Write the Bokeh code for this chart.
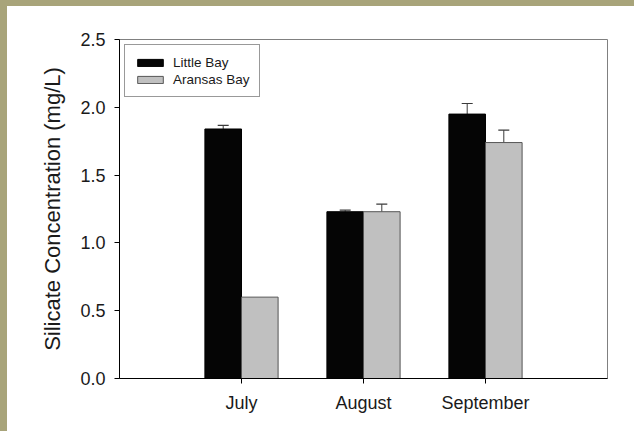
from bokeh.plotting import figure
from bokeh.layouts import column, row
from bokeh.models import (ColumnDataSource, FactorRange, FixedTicker, PrintfTickFormatter,
                          Whisker, TeeHead, Legend, LegendItem, Spacer)
from bokeh.transform import dodge
from bokeh.embed import file_html
from bokeh.resources import INLINE

months = ["July", "August", "September"]
little_bay = [1.84, 1.23, 1.95]
little_bay_err = [0.027, 0.012, 0.078]
aransas_bay = [0.60, 1.23, 1.74]
aransas_bay_err = [0.0, 0.056, 0.091]
y_ticks = [0.0, 0.5, 1.0, 1.5, 2.0, 2.5]

FONT = "Liberation Sans"
FRAME_BG = "#A8A47A"

src = ColumnDataSource(dict(month=months, lb=little_bay, ab=aransas_bay))


def err_source(values, errs):
    keep = [i for i, e in enumerate(errs) if e > 0]
    return ColumnDataSource(dict(
        month=[months[i] for i in keep],
        lower=[values[i] for i in keep],
        upper=[values[i] + errs[i] for i in keep],
    ))


lb_err_src = err_source(little_bay, little_bay_err)
ab_err_src = err_source(aransas_bay, aransas_bay_err)

p = figure(width=627, height=425, output_backend="svg", toolbar_location=None,
           x_range=FactorRange(*months, range_padding=0.5, range_padding_units="absolute"),
           y_range=(0, 2.5),
           min_border_left=112, min_border_right=27, min_border_top=33, min_border_bottom=53)

p.background_fill_color = "white"
p.border_fill_color = "white"
p.grid.visible = False
p.outline_line_color = "#808080"
p.outline_line_width = 1

r1 = p.vbar(x=dodge("month", -0.15, range=p.x_range), top="lb", width=0.3, source=src,
            fill_color="#050505", line_color="#000000", line_width=1)
r2 = p.vbar(x=dodge("month", 0.15, range=p.x_range), top="ab", width=0.3, source=src,
            fill_color="#C0C0C0", line_color="#555555", line_width=1)

w1 = Whisker(base=dodge("month", -0.15, range=p.x_range), lower="lower", upper="upper",
             source=lb_err_src, line_color="#3a3a3a", line_width=1,
             upper_head=TeeHead(size=11, line_color="#3a3a3a", line_width=1.2), lower_head=None)
w2 = Whisker(base=dodge("month", 0.15, range=p.x_range), lower="lower", upper="upper",
             source=ab_err_src, line_color="#3a3a3a", line_width=1,
             upper_head=TeeHead(size=11, line_color="#3a3a3a", line_width=1.2), lower_head=None)
p.add_layout(w1)
p.add_layout(w2)

for ax in (p.xaxis[0], p.yaxis[0]):
    ax.axis_line_color = "black"
    ax.axis_line_width = 1
    ax.major_tick_line_color = "black"
    ax.major_tick_in = 0
    ax.major_tick_out = 5
    ax.minor_tick_line_color = None
    ax.major_label_text_font = FONT
    ax.major_label_text_font_size = "18px"
    ax.major_label_text_color = "#1a1a1a"

p.yaxis[0].ticker = FixedTicker(ticks=y_ticks)
p.yaxis[0].formatter = PrintfTickFormatter(format="%.1f")
p.yaxis[0].major_label_standoff = 9
p.yaxis[0].axis_label = "Silicate Concentration (mg/L)"
p.yaxis[0].axis_label_text_font = FONT
p.yaxis[0].axis_label_text_font_size = "22px"
p.yaxis[0].axis_label_text_font_style = "normal"
p.yaxis[0].axis_label_text_color = "#1a1a1a"
p.yaxis[0].axis_label_standoff = 12

p.xaxis[0].major_label_standoff = 9

legend = Legend(items=[LegendItem(label="Little Bay", renderers=[r1]),
                       LegendItem(label="Aransas Bay", renderers=[r2])],
                location="top_left", margin=5, padding=9, spacing=1,
                glyph_width=32, glyph_height=9, label_height=16, label_standoff=7,
                label_text_font=FONT, label_text_font_size="13.5px", label_text_color="#1a1a1a",
                border_line_color="#333333", border_line_width=1,
                background_fill_color="white", background_fill_alpha=1.0)
p.add_layout(legend)

top_strip = Spacer(width=634, height=6, styles={"background-color": FRAME_BG})
left_strip = Spacer(width=7, height=425, styles={"background-color": FRAME_BG})
page = column(top_strip, row(left_strip, p, spacing=0), spacing=0)

open("out.html", "w").write(file_html(page, INLINE))
